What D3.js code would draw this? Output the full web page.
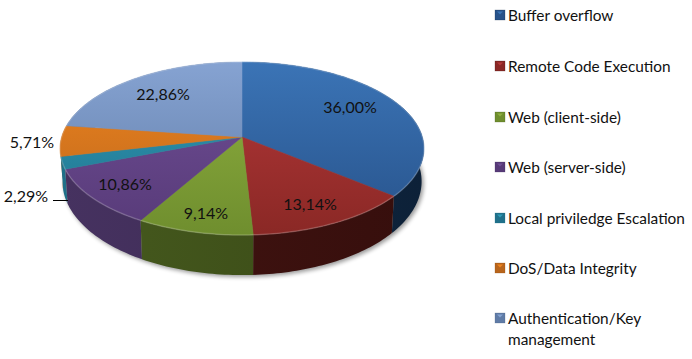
<!DOCTYPE html>
<html>
<head>
<meta charset="utf-8">
<script src="https://cdn.jsdelivr.net/npm/d3@7"></script>
<style>
  body { margin: 0; background: #fff; }
  text { font-family: Lato, "Open Sans", sans-serif; fill: #111; }
</style>
</head>
<body>
<div id="chart"></div>
<script>
const categories = ["Buffer overflow", "Remote Code Execution", "Web (client-side)", "Web (server-side)",
    "Local priviledge Escalation", "DoS/Data Integrity", "Authentication/Key management"];
const shares = [36.00, 13.14, 9.14, 10.86, 2.29, 5.71, 22.86];
const labels = ["36,00%", "13,14%", "9,14%", "10,86%", "2,29%", "5,71%", "22,86%"];

const topLight = ["#3b74b6", "#b5383a", "#8fb040", "#704f96", "#2f9cb8", "#f0851f", "#86a3d2"];
const topDark = ["#27528a", "#8a2825", "#6f8e2e", "#573a78", "#20708a", "#b8651c", "#5f7ba6"];
const sideLight = ["#102a4a", "#431512", "#465a1e", "#463260", "#1e7088", "#8c4e12", "#4a6080"];
const sideDark = ["#0d2138", "#360e0c", "#394916", "#3a2850", "#185a6e", "#6f3d0e", "#3a4c68"];

// where the percent labels sit (excel "best fit", doesn't follow the slice centroid)
const labelX = [350, 310, 206, 125, 26, 32, 163];
const labelY = [106, 203, 212, 183, 195, 141, 93];
const legendY = [15, 66, 117, 167, 218, 268, 318];

const width = 692, height = 359;

// perspective disc: camera tilt squeezes the back and stretches the front
const cx = 242, persp = 0.133;
const topPlane = {r: 180.4, y0: 137, k: 85};
const bottomPlane = {r: 178, y0: 169, k: 92};

function project(plane, a) {
    const u = Math.sin(a), v = -Math.cos(a);
    const w = 1 - persp * v;
    return [cx + plane.r * u / w, plane.y0 + plane.k * v / w];
}

const line = d3.line();
const arcPoints = (plane, a0, a1) => {
    const n = Math.max(2, Math.ceil((a1 - a0) / 0.02));
    return d3.range(n + 1).map(i => project(plane, a0 + (a1 - a0) * i / n));
};

const pie = d3.pie().sort(null).value(d => d.share);
const slices = pie(categories.map((name, i) => ({name, share: shares[i], i})));
const color = (arr, d) => arr[d.data.i];

const svg = d3.select("#chart")
    .append("svg")
    .attr("width", width)
    .attr("height", height)
    .attr("viewBox", [0, 0, width, height]);

const defs = svg.append("defs");

defs.append("filter")
    .attr("id", "blur")
    .attr("x", "-10%").attr("y", "-10%").attr("width", "120%").attr("height", "120%")
    .append("feGaussianBlur")
    .attr("stdDeviation", 2);

// top faces: vertical gradient over the whole disc
slices.forEach(d => {
    const g = defs.append("linearGradient")
        .attr("id", `top${d.data.i}`)
        .attr("gradientUnits", "userSpaceOnUse")
        .attr("x1", 0).attr("x2", 0).attr("y1", 62).attr("y2", 235);
    g.append("stop").attr("offset", 0).attr("stop-color", color(topLight, d));
    g.append("stop").attr("offset", 1).attr("stop-color", color(topDark, d));

    const s = defs.append("linearGradient")
        .attr("id", `side${d.data.i}`)
        .attr("gradientUnits", "userSpaceOnUse")
        .attr("x1", 60).attr("x2", 424).attr("y1", 0).attr("y2", 0);
    s.append("stop").attr("offset", 0).attr("stop-color", color(sideLight, d));
    s.append("stop").attr("offset", 1).attr("stop-color", color(sideDark, d));
});

// soft shadow under the pie
svg.append("path")
    .attr("d", line(arcPoints(bottomPlane, 0, 2 * Math.PI)) + "Z")
    .attr("transform", "translate(2,2)")
    .attr("fill", "#000")
    .attr("opacity", 0.4)
    .attr("filter", "url(#blur)");

// side walls, back ones first
svg.append("g")
    .selectAll("path")
    .data(slices.slice().sort((a, b) => -Math.cos((a.startAngle + a.endAngle) / 2) + Math.cos((b.startAngle + b.endAngle) / 2)))
    .join("path")
    .attr("d", d => {
        const upper = arcPoints(topPlane, d.startAngle, d.endAngle);
        const lower = arcPoints(bottomPlane, d.startAngle, d.endAngle).reverse();
        return line(upper.concat(lower)) + "Z";
    })
    .attr("fill", d => `url(#side${d.data.i})`);

// top faces
svg.append("g")
    .selectAll("path")
    .data(slices)
    .join("path")
    .attr("d", d => line([[cx, topPlane.y0]].concat(arcPoints(topPlane, d.startAngle, d.endAngle))) + "Z")
    .attr("fill", d => `url(#top${d.data.i})`)
    .attr("stroke", d => `url(#top${d.data.i})`)
    .attr("stroke-width", 0.5);

// bevel highlight on the rim
svg.append("g")
    .selectAll("path")
    .data(slices)
    .join("path")
    .attr("d", d => line(arcPoints(topPlane, d.startAngle, d.endAngle)))
    .attr("fill", "none")
    .attr("stroke", "#fff")
    .attr("stroke-opacity", 0.18)
    .attr("stroke-width", 1.5);

// percent labels
svg.append("g")
    .selectAll("text")
    .data(labels)
    .join("text")
    .attr("x", (d, i) => labelX[i])
    .attr("y", (d, i) => labelY[i])
    .attr("text-anchor", "middle")
    .attr("dominant-baseline", "central")
    .attr("font-size", 16)
    .text(d => d);

// leader for the 2,29% slice
svg.append("line")
    .attr("x1", 53).attr("x2", 68)
    .attr("y1", 200.5).attr("y2", 200.5)
    .attr("stroke", "#000");

// legend
const legend = svg.append("g")
    .selectAll("g")
    .data(categories)
    .join("g")
    .attr("transform", (d, i) => `translate(495,${legendY[i]})`);

legend.append("rect")
    .attr("x", 0).attr("y", -5)
    .attr("width", 10).attr("height", 10)
    .attr("fill", (d, i) => topDark[i])
    .attr("stroke", (d, i) => sideLight[i])
    .attr("stroke-opacity", 0.5)
    .attr("stroke-width", 0.5);

legend.append("path")
    .attr("d", "M2,-3.5L8,-3.5L5,-0.5Z")
    .attr("fill", (d, i) => topLight[i]);

legend.append("text")
    .attr("x", 13)
    .attr("dominant-baseline", "central")
    .attr("font-size", 15.4)
    .each(function(d) {
        // the last entry wraps on two lines
        const parts = d === "Authentication/Key management" ? ["Authentication/Key", "management"] : [d];
        d3.select(this).selectAll("tspan")
            .data(parts)
            .join("tspan")
            .attr("x", 13)
            .attr("dy", (p, i) => i ? 21 : 0)
            .text(p => p);
    });
</script>
</body>
</html>
